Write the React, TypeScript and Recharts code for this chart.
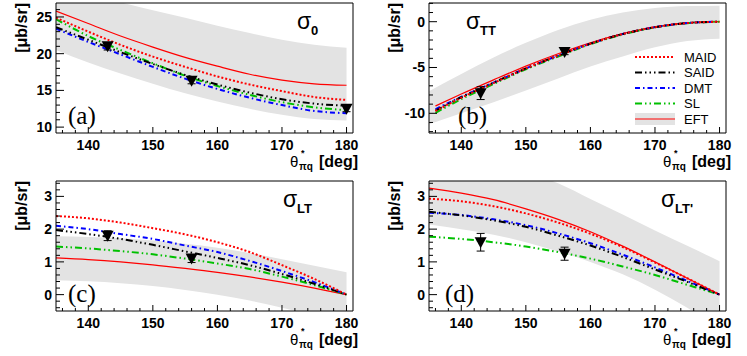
import React from "react";
import { ComposedChart, Line, Area, Scatter, ErrorBar, XAxis, YAxis, ReferenceLine, Legend } from "recharts";

const FONT = '"Liberation Sans", Arial, Helvetica, sans-serif';
const SERIF = '"Liberation Serif", "Times New Roman", serif';

// angles (deg)
const angles = [135, 140, 145, 150, 155, 160, 165, 170, 175, 180];
const anglesTT = [136, 140, 145, 150, 155, 160, 165, 170, 175, 180];
const xTicks = [136, 138, 140, 142, 144, 146, 148, 150, 152, 154, 156, 158, 160, 162, 164, 166, 168, 170, 172, 174, 176, 178, 180];
const xMajor = [140, 150, 160, 170, 180];

// (a) sigma_0
const maid0 = [24.9, 23.0, 21.2, 19.6, 18.2, 16.9, 15.8, 14.9, 14.1, 13.7];
const said0 = [23.6, 21.9, 20.2, 18.6, 17.1, 15.8, 14.7, 13.8, 13.2, 12.9];
const dmt0 = [23.4, 21.6, 19.9, 18.2, 16.6, 15.2, 14.0, 13.0, 12.2, 11.9];
const sl0 = [24.7, 22.4, 20.5, 18.7, 17.0, 15.6, 14.4, 13.4, 12.7, 12.3];
const eft0 = [25.8, 24.1, 22.4, 20.9, 19.5, 18.3, 17.2, 16.4, 15.9, 15.7];
const bandLo0 = [20.5, 18.8, 17.3, 15.9, 14.6, 13.5, 12.5, 11.7, 11.1, 10.9];
const bandHi0 = [29.0, 28.0, 27.0, 25.9, 24.9, 23.8, 22.8, 21.9, 21.2, 20.8];
const data0 = [
  { angle: 143, value: 21.0, err: 0.5 },
  { angle: 156, value: 16.3, err: 0.4 },
  { angle: 180, value: 12.5, err: 0.4 },
];
const yTicks0 = [10, 11, 12, 13, 14, 15, 16, 17, 18, 19, 20, 21, 22, 23, 24, 25, 26];
const yMajor0 = [10, 15, 20, 25];

// (b) sigma_TT
const maidTT = [-9.75, -8.3, -6.7, -5.1, -3.7, -2.4, -1.35, -0.6, -0.15, 0];
const saidTT = [-9.7, -8.25, -6.65, -5.1, -3.7, -2.4, -1.35, -0.6, -0.15, 0];
const dmtTT = [-9.55, -8.2, -6.65, -5.1, -3.7, -2.4, -1.35, -0.6, -0.15, 0];
const slTT = [-9.95, -8.45, -6.8, -5.2, -3.8, -2.45, -1.4, -0.62, -0.16, 0];
const eftTT = [-9.2, -7.9, -6.35, -4.85, -3.5, -2.3, -1.3, -0.55, -0.12, 0];
const bandLoTT = [-11.2, -10.0, -8.8, -7.5, -6.2, -4.9, -3.8, -2.8, -2.1, -1.85];
const bandHiTT = [-7.6, -5.7, -3.9, -2.3, -0.9, 0.2, 1.0, 1.5, 1.7, 1.75];
const dataTT = [
  { angle: 143, value: -7.8, err: 0.7 },
  { angle: 156, value: -3.3, err: 0.3 },
];
const yTicksTT = [-12, -11, -10, -9, -8, -7, -6, -5, -4, -3, -2, -1, 0, 1, 2];
const yMajorTT = [-10, -5, 0];

// (c) sigma_LT
const maidLT = [2.4, 2.33, 2.2, 2.03, 1.84, 1.6, 1.3, 0.9, 0.48, 0];
const saidLT = [1.97, 1.85, 1.7, 1.52, 1.32, 1.12, 0.9, 0.63, 0.33, 0];
const dmtLT = [2.1, 2.0, 1.85, 1.7, 1.5, 1.3, 1.03, 0.72, 0.38, 0];
const slLT = [1.47, 1.41, 1.33, 1.23, 1.1, 0.95, 0.78, 0.55, 0.29, 0];
const eftLT = [1.12, 1.07, 1.0, 0.91, 0.8, 0.68, 0.54, 0.38, 0.2, 0];
const bandLoLT = [0.44, 0.41, 0.35, 0.26, 0.14, 0.0, -0.18, -0.4, -0.62, -0.85];
const bandHiLT = [1.78, 1.76, 1.72, 1.65, 1.55, 1.43, 1.27, 1.08, 0.88, 0.68];
const dataLT = [
  { angle: 143, value: 1.8, err: 0.15 },
  { angle: 156, value: 1.1, err: 0.12 },
];

// (d) sigma_LT'
const maidLTp = [2.93, 2.85, 2.7, 2.48, 2.2, 1.86, 1.45, 0.98, 0.5, 0];
const saidLTp = [2.53, 2.42, 2.27, 2.07, 1.8, 1.5, 1.15, 0.77, 0.39, 0];
const dmtLTp = [2.5, 2.43, 2.3, 2.12, 1.87, 1.57, 1.22, 0.83, 0.42, 0];
const slLTp = [1.77, 1.7, 1.6, 1.47, 1.3, 1.1, 0.86, 0.6, 0.3, 0];
const eftLTp = [3.25, 3.1, 2.9, 2.62, 2.3, 1.92, 1.48, 1.0, 0.5, 0];
const bandLoLTp = [2.14, 2.0, 1.83, 1.6, 1.32, 1.0, 0.62, 0.15, -0.4, -1.0];
const bandHiLTp = [4.1, 4.0, 3.9, 3.75, 3.4, 2.92, 2.45, 1.96, 1.49, 1.02];
const dataLTp = [
  { angle: 143, value: 1.6, err: 0.27 },
  { angle: 156, value: 1.25, err: 0.2 },
];
const yTicksLT = [-0.4, -0.2, 0, 0.2, 0.4, 0.6, 0.8, 1, 1.2, 1.4, 1.6, 1.8, 2, 2.2, 2.4, 2.6, 2.8, 3, 3.2, 3.4];
const yMajorLT = [0, 1, 2, 3];

const models = [
  { key: "eft", name: "EFT", color: "#ff0000", dash: undefined, width: 1.2 },
  { key: "sl", name: "SL", color: "#00c000", dash: "7 3 1.5 3 1.5 3", width: 2 },
  { key: "dmt", name: "DMT", color: "#0000ff", dash: "5 3 1.5 3", width: 2 },
  { key: "said", name: "SAID", color: "#000000", dash: "7 3 1.5 3 1.5 3 1.5 3", width: 2 },
  { key: "maid", name: "MAID", color: "#ff0000", dash: "2 2", width: 2 },
];
const legendOrder = ["maid", "said", "dmt", "sl", "eft"];
const BAND = "#e3e3e3";

const XTick = (props: any) => {
  const { x, y, payload } = props;
  const major = xMajor.includes(payload.value);
  return (
    <g>
      <line x1={x} x2={x} y1={y} y2={y - (major ? 6 : 3)} stroke="#000" />
      {major && (
        <text x={x} y={y + 17} textAnchor="middle" fontFamily={FONT} fontWeight="bold" fontSize={14} fill="#000">
          {payload.value}
        </text>
      )}
    </g>
  );
};

const makeYTick = (majors: number[]) => (props: any) => {
  const { x, y, payload } = props;
  const major = majors.some((m) => Math.abs(m - payload.value) < 1e-6);
  return (
    <g>
      <line x1={x} x2={x + (major ? 8 : 4)} y1={y} y2={y} stroke="#000" />
      {major && (
        <text x={x - 4} y={y + 5} textAnchor="end" fontFamily={FONT} fontWeight="bold" fontSize={14} fill="#000">
          {payload.value}
        </text>
      )}
    </g>
  );
};

const Triangle = (props: any) => {
  const { cx, cy } = props;
  return <polygon points={`${cx - 6},${cy - 5} ${cx + 6},${cy - 5} ${cx},${cy + 6}`} fill="#000" />;
};

const LegendBox = () => (
  <svg width={100} height={80}>
    {legendOrder.map((k, i) => {
      const m = models.find((s) => s.key === k)!;
      const y = 8 + i * 15.5;
      return (
        <g key={k}>
          {k === "eft" && <rect x={4} y={y - 6} width={40} height={12} fill={BAND} />}
          <line x1={4} x2={44} y1={y} y2={y} stroke={m.color} strokeWidth={m.width} strokeDasharray={m.dash} />
          <text x={53} y={y + 4.5} fontFamily={FONT} fontSize={13} fill="#000">
            {m.name}
          </text>
        </g>
      );
    })}
  </svg>
);

type PanelProps = {
  left: number;
  top: number;
  width: number;
  curveAngles: number[];
  curves: Record<string, number[]>;
  lo: number[];
  hi: number[];
  points: { angle: number; value: number; err: number }[];
  yDomain: [number, number];
  yTicks: number[];
  yMajor: number[];
  sub: string;
  sigmaX: number;
  letter: string;
  letterX: number;
  legend?: boolean;
};

const Panel = (p: PanelProps) => {
  const bandRows = angles.map((a, i) => ({ angle: a, range: [p.lo[i], p.hi[i]] }));
  const curveRows = p.curveAngles.map((a, i) => ({
    angle: a,
    maid: p.curves.maid[i],
    said: p.curves.said[i],
    dmt: p.curves.dmt[i],
    sl: p.curves.sl[i],
    eft: p.curves.eft[i],
  }));
  const H = 178;
  return (
    <div style={{ position: "absolute", left: p.left, top: p.top, width: p.width, height: H }}>
      <ComposedChart
        width={p.width}
        height={H}
        data={bandRows}
        margin={{ top: 3, right: p.width - 353, bottom: 0, left: 0 }}
      >
        <XAxis
          dataKey="angle"
          type="number"
          domain={[135, 181]}
          ticks={xTicks}
          interval={0}
          tickSize={0}
          tickMargin={0}
          tick={XTick}
          height={45}
          allowDataOverflow
          axisLine={{ stroke: "#000" }}
        />
        <YAxis
          type="number"
          domain={p.yDomain}
          ticks={p.yTicks}
          interval={0}
          tickSize={0}
          tickMargin={0}
          tick={makeYTick(p.yMajor)}
          width={56}
          allowDataOverflow
          axisLine={{ stroke: "#000" }}
        />
        <Area dataKey="range" type="monotone" fill={BAND} fillOpacity={1} stroke="none" isAnimationActive={false} />
        {models.map((m) => (
          <Line
            key={m.key}
            data={curveRows}
            dataKey={m.key}
            type="monotone"
            stroke={m.color}
            strokeWidth={m.width}
            strokeDasharray={m.dash}
            dot={false}
            activeDot={false}
            isAnimationActive={false}
          />
        ))}
        <Scatter data={p.points} dataKey="value" shape={Triangle} isAnimationActive={false}>
          <ErrorBar dataKey="err" direction="y" width={4} stroke="#000" strokeWidth={1} />
        </Scatter>
        <ReferenceLine y={p.yDomain[1]} stroke="#000" />
        <ReferenceLine x={181} stroke="#000" />
        {p.legend && (
          <Legend
            layout="vertical"
            align="center"
            verticalAlign="middle"
            wrapperStyle={{ left: 258, top: 49, width: 100, height: 80 }}
            content={() => <LegendBox />}
          />
        )}
      </ComposedChart>
      <svg
        width={p.width}
        height={H}
        style={{ position: "absolute", left: 0, top: 0, pointerEvents: "none", overflow: "visible" }}
      >
        <text transform="translate(27,3) rotate(-90)" textAnchor="end" fontFamily={FONT} fontWeight="bold" fontSize={16}>
          [μb/sr]
        </text>
        <text x={290} y={167} fontFamily={FONT} fontSize={15}>
          θ
        </text>
        <text x={301} y={156} fontFamily={FONT} fontWeight="bold" fontSize={9}>
          *
        </text>
        <text x={299} y={170} fontFamily={FONT} fontWeight="bold" fontSize={10}>
          πq
        </text>
        <text x={358} y={167} textAnchor="end" fontFamily={FONT} fontWeight="bold" fontSize={16}>
          [deg]
        </text>
        <text x={p.sigmaX} y={29} fontFamily={FONT} fontSize={23}>
          σ
        </text>
        <text x={p.sigmaX + 14} y={35} fontFamily={FONT} fontWeight="bold" fontSize={13}>
          {p.sub}
        </text>
        <text x={p.letterX} y={124} fontFamily={SERIF} fontSize={25}>
          {p.letter}
        </text>
      </svg>
    </div>
  );
}

export default function App() {
  return (
    <div style={{ position: "absolute", left: 0, top: 0, width: 747, height: 356, background: "#fff" }}>
      <Panel
        left={0}
        top={0}
        width={373}
        curveAngles={angles}
        curves={{ maid: maid0, said: said0, dmt: dmt0, sl: sl0, eft: eft0 }}
        lo={bandLo0}
        hi={bandHi0}
        points={data0}
        yDomain={[9.2, 26.9]}
        yTicks={yTicks0}
        yMajor={yMajor0}
        sub="0"
        sigmaX={297}
        letter="(a)"
        letterX={68}
      />
      <Panel
        left={373}
        top={0}
        width={374}
        curveAngles={anglesTT}
        curves={{ maid: maidTT, said: saidTT, dmt: dmtTT, sl: slTT, eft: eftTT }}
        lo={bandLoTT}
        hi={bandHiTT}
        points={dataTT}
        yDomain={[-12.15, 2.04]}
        yTicks={yTicksTT}
        yMajor={yMajorTT}
        sub="TT"
        sigmaX={93}
        letter="(b)"
        letterX={85}
        legend
      />
      <Panel
        left={0}
        top={178}
        width={373}
        curveAngles={angles}
        curves={{ maid: maidLT, said: saidLT, dmt: dmtLT, sl: slLT, eft: eftLT }}
        lo={bandLoLT}
        hi={bandHiLT}
        points={dataLT}
        yDomain={[-0.5, 3.47]}
        yTicks={yTicksLT}
        yMajor={yMajorLT}
        sub="LT"
        sigmaX={283}
        letter="(c)"
        letterX={68}
      />
      <Panel
        left={373}
        top={178}
        width={374}
        curveAngles={angles}
        curves={{ maid: maidLTp, said: saidLTp, dmt: dmtLTp, sl: slLTp, eft: eftLTp }}
        lo={bandLoLTp}
        hi={bandHiLTp}
        points={dataLTp}
        yDomain={[-0.5, 3.47]}
        yTicks={yTicksLT}
        yMajor={yMajorLT}
        sub="LT'"
        sigmaX={288}
        letter="(d)"
        letterX={72}
      />
    </div>
  );
}
